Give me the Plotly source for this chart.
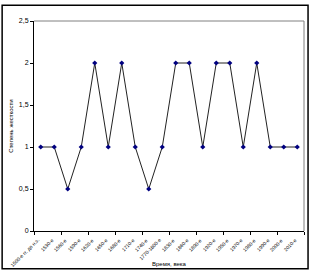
import plotly.graph_objects as go

categories = ["1500-е гг. до н.э.", "1530-е", "1560-е", "1590-е", "1620-е", "1650-е", "1680-е", "1710-е", "1740-е",
              "1770-1800-е", "1830-е", "1860-е", "1890-е", "1920-е", "1950-е", "1970-е", "1980-е", "1990-е", "2000-е", "2010-е"]
values = [1, 1, 0.5, 1, 2, 1, 2, 1, 0.5, 1, 2, 2, 1, 2, 2, 1, 2, 1, 1, 1]
y_ticks = [0, 0.5, 1, 1.5, 2, 2.5]
y_tick_text = ["0", "0,5", "1", "1,5", "2", "2,5"]

fig = go.Figure()
fig.add_trace(go.Scatter(
    x=categories, y=values, mode="lines+markers",
    line=dict(color="#222222", width=1),
    marker=dict(symbol="diamond", size=4, color="#000080"),
    showlegend=False,
))

annotations = [
    dict(x=c, y=0, xref="x", yref="paper", text=c, showarrow=False, textangle=-45,
         xanchor="right", yanchor="top", xshift=3, yshift=-3,
         font=dict(size=5, color="black"))
    for c in categories
]
annotations.append(dict(x=0.43, y=-0.135, xref="paper", yref="paper", text="Время, века",
                        showarrow=False, xanchor="left", yanchor="top",
                        font=dict(size=6, color="black")))

fig.update_layout(
    width=310, height=273,
    margin=dict(l=34, r=6, t=21, b=42, autoexpand=False),
    paper_bgcolor="white", plot_bgcolor="white",
    font=dict(family="Arial, Liberation Sans, sans-serif", size=7, color="black"),
    xaxis=dict(type="category", showline=True, linecolor="black", linewidth=1,
               ticks="outside", ticklen=3, tickcolor="black", tickson="boundaries",
               showticklabels=False, showgrid=False, mirror=False, automargin=False,
               range=[-0.5, len(categories) - 0.5]),
    yaxis=dict(range=[0, 2.5], tickvals=y_ticks, ticktext=y_tick_text,
               showline=True, linecolor="black", linewidth=1, automargin=False,
               ticks="outside", ticklen=3, tickcolor="black",
               showgrid=False, zeroline=False,
               title=dict(text="Степень жесткости", font=dict(size=6), standoff=4)),
    annotations=annotations,
    shapes=[
        dict(type="line", xref="paper", yref="paper", x0=0, x1=1, y0=1, y1=1,
             line=dict(color="#808080", width=1)),
        dict(type="line", xref="paper", yref="paper", x0=1, x1=1, y0=0, y1=1,
             line=dict(color="#808080", width=1)),
        dict(type="rect", xref="paper", yref="paper", x0=-0.118, x1=1.015, y0=-0.18, y1=1.075,
             line=dict(color="black", width=1.5)),
    ],
)

fig.write_html("out.html")
